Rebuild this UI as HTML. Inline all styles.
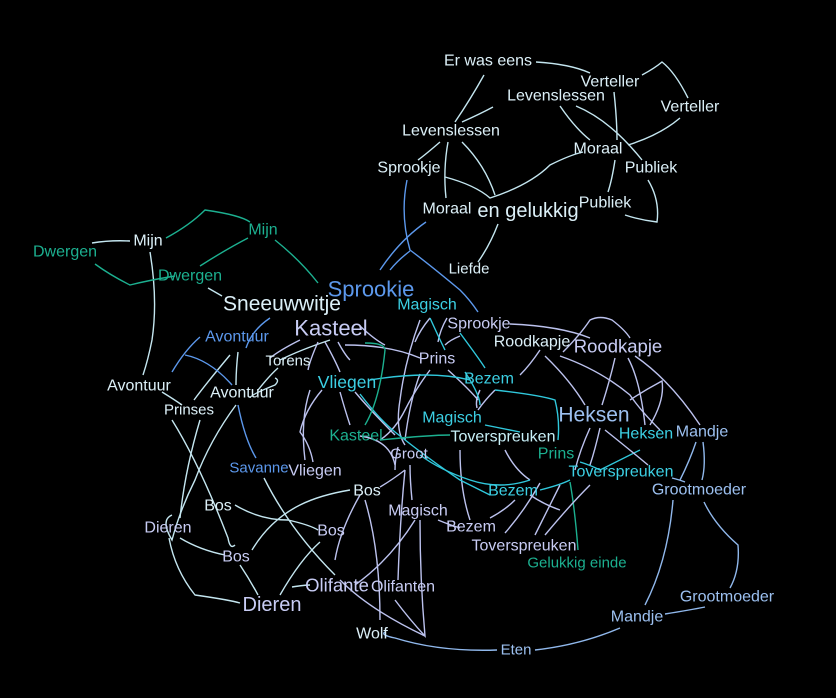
<!DOCTYPE html>
<html><head><meta charset="utf-8"><style>
html,body{margin:0;padding:0;background:#000;}
svg{display:block;}
text{font-family:"Liberation Sans",Arial,sans-serif;text-anchor:middle;dominant-baseline:central;}
.w{fill:#dcf0f8}.l{fill:#c8ccf4}.b{fill:#5c98ec}.c{fill:#3cd0e4}.t{fill:#1cb090}.lb{fill:#9cc0f0}
path{fill:none;stroke-width:1.4}
.ew{stroke:#c4e6f0}.el{stroke:#bcc2ee}.eb{stroke:#5c98ec}.ec{stroke:#30c8dc}.et{stroke:#1cb090}.elb{stroke:#90b8ec}
</style></head><body>
<svg width="836" height="698" viewBox="0 0 836 698" xmlns="http://www.w3.org/2000/svg">
<rect width="836" height="698" fill="#000"/>
<g class="ew">
<path d="M536,62 Q570,64 590,73"/>
<path d="M642,75 Q655,68 662,62 Q675,72 688,98"/>
<path d="M484,75 Q470,100 455,122"/>
<path d="M493,107 Q480,114 462,122"/>
<path d="M560,106 Q575,128 590,140"/>
<path d="M576,106 Q610,120 642,160"/>
<path d="M614,92 Q617,120 617,140"/>
<path d="M628,145 Q660,135 680,118"/>
<path d="M440,142 Q425,155 418,160"/>
<path d="M448,142 Q443,170 446,198"/>
<path d="M462,142 Q485,165 495,195"/>
<path d="M445,177 Q475,185 490,198 Q530,185 550,165 Q570,155 583,152"/>
<path d="M615,160 Q612,180 608,192"/>
<path d="M648,180 Q660,200 657,222 Q640,220 625,215"/>
<path d="M498,224 Q490,245 478,262"/>
</g>
<g class="eb">
<path d="M407,180 Q400,215 410,250 Q430,265 460,290 Q470,300 478,312"/>
<path d="M426,222 Q400,240 380,270"/>
<path d="M410,251 Q398,260 390,270"/>
</g>
<g class="ew">
<path d="M92,243 Q110,240 130,241"/>
<path d="M150,252 Q158,300 152,340 Q148,360 143,375"/>
<path d="M208,288 Q215,292 222,296"/>
<path d="M162,392 Q175,400 182,405"/>
<path d="M172,420 Q200,465 228,538 Q230,550 235,545"/>
<path d="M200,420 Q185,470 180,518"/>
<path d="M230,355 Q205,385 194,400"/>
<path d="M238,352 Q236,370 236,385"/>
<path d="M250,398 Q250,395 275,385 Q280,380 275,378"/>
<path d="M258,390 Q270,375 278,368"/>
<path d="M280,360 Q300,350 330,340"/>
<path d="M236,405 Q210,440 195,480 Q180,510 172,540 Q160,520 172,515"/>
<path d="M169,538 Q175,570 195,595 Q230,600 240,603"/>
<path d="M180,538 Q200,550 225,555"/>
<path d="M235,505 Q260,520 288,520 Q310,525 318,530"/>
<path d="M252,550 Q270,520 300,505 Q320,495 350,490"/>
<path d="M240,565 Q250,580 258,595"/>
<path d="M280,595 Q300,560 320,542"/>
<path d="M264,478 Q290,530 335,575"/>
<path d="M292,587 Q305,585 310,585"/>
</g>
<g class="et">
<path d="M95,264 Q110,275 130,285 Q150,280 175,276"/>
<path d="M166,238 Q190,225 205,210 Q240,215 250,222"/>
<path d="M200,266 Q225,250 248,238"/>
<path d="M275,240 Q300,260 318,283"/>
</g>
<g class="eb">
<path d="M200,337 Q185,350 172,372"/>
<path d="M185,355 Q210,360 232,385"/>
<path d="M246,348 Q252,330 270,318"/>
<path d="M238,405 Q245,440 256,458"/>
</g>
<g class="el">
<path d="M300,340 Q280,350 270,358"/>
<path d="M318,342 Q310,360 308,370"/>
<path d="M325,342 Q335,360 340,372"/>
<path d="M338,342 Q345,355 350,360"/>
<path d="M345,345 Q390,345 420,358"/>
<path d="M310,390 Q300,420 305,460"/>
<path d="M322,390 Q305,410 300,432 Q310,445 313,462"/>
<path d="M340,392 Q345,410 350,425"/>
<path d="M355,392 Q370,410 395,435"/>
<path d="M360,326 Q375,340 385,345"/>
<path d="M420,320 Q405,360 400,400 Q395,430 405,445"/>
<path d="M430,318 Q420,330 415,342"/>
<path d="M447,318 Q440,330 438,342"/>
<path d="M460,336 Q450,340 445,345"/>
<path d="M510,324 Q560,326 590,338"/>
<path d="M430,370 Q415,390 405,410 Q395,430 380,440"/>
<path d="M420,374 Q410,400 405,440"/>
<path d="M448,370 Q470,390 478,400"/>
<path d="M480,390 Q475,400 477,408"/>
<path d="M495,390 Q485,400 478,410"/>
<path d="M398,447 Q395,460 395,470 M410,465 Q410,480 412,500"/>
<path d="M405,470 Q400,520 398,580"/>
<path d="M395,465 Q390,440 360,436"/>
<path d="M380,487 Q392,480 405,470"/>
<path d="M360,495 Q340,530 335,560"/>
<path d="M365,500 Q380,550 380,620"/>
<path d="M420,520 Q420,580 425,636 Q410,620 395,600"/>
<path d="M460,450 Q460,490 470,520"/>
<path d="M505,450 Q515,470 530,480"/>
<path d="M438,520 Q450,525 460,528"/>
<path d="M415,520 Q390,560 355,585"/>
<path d="M490,518 Q505,510 515,500"/>
<path d="M340,580 Q370,610 425,636"/>
</g>
<g class="ec">
<path d="M430,318 Q440,340 445,350"/>
<path d="M460,333 Q480,360 485,368"/>
<path d="M465,372 Q480,395 480,405"/>
<path d="M495,390 Q540,395 555,400 Q560,420 558,440"/>
<path d="M360,394 Q380,420 395,432 Q430,460 460,480 Q480,490 490,495"/>
<path d="M370,380 Q430,370 470,380"/>
<path d="M485,425 Q510,430 520,432"/>
<path d="M420,455 Q440,470 470,480 Q500,490 530,480"/>
<path d="M540,490 Q560,485 570,480"/>
<path d="M580,462 Q590,465 600,470 Q620,460 640,450"/>
</g>
<g class="et">
<path d="M365,343 Q385,343 385,350 Q380,400 365,425"/>
<path d="M380,440 Q430,435 450,435"/>
<path d="M570,482 Q575,510 578,550"/>
</g>
<g class="el">
<path d="M563,352 Q580,335 590,320 Q600,315 612,320 Q625,330 630,338"/>
<path d="M545,356 Q570,380 585,405"/>
<path d="M560,356 Q600,370 630,395 Q640,410 660,430"/>
<path d="M615,358 Q610,380 602,405"/>
<path d="M628,358 Q640,380 645,425"/>
<path d="M635,356 Q670,380 700,425"/>
<path d="M630,400 Q645,390 662,381 Q665,400 650,425"/>
<path d="M590,428 Q580,450 575,470"/>
<path d="M600,428 Q595,450 590,465"/>
<path d="M605,430 Q630,450 648,465"/>
<path d="M540,350 Q530,365 520,375"/>
<path d="M540,483 Q525,510 505,533"/>
<path d="M560,485 Q545,515 535,535"/>
<path d="M590,485 Q570,505 545,535"/>
<path d="M530,495 Q545,505 560,510"/>
</g>
<g class="elb">
<path d="M696,442 Q690,460 680,480"/>
<path d="M703,442 Q706,465 702,480"/>
<path d="M672,478 Q680,480 685,482"/>
<path d="M673,500 Q668,560 645,605"/>
<path d="M704,502 Q715,525 738,545 Q740,570 730,588"/>
<path d="M665,614 Q690,610 705,607"/>
<path d="M620,628 Q580,645 535,650"/>
<path d="M497,650 Q440,652 395,638 Q380,635 385,632"/>
</g>
<g font-size="16">
<text x="488" y="61" class="w">Er was eens</text>
<text x="610" y="82" class="w">Verteller</text>
<text x="556" y="96" class="w">Levenslessen</text>
<text x="690" y="107" class="w">Verteller</text>
<text x="451" y="131" class="w">Levenslessen</text>
<text x="598" y="149" class="w">Moraal</text>
<text x="409" y="168" class="w">Sprookje</text>
<text x="651" y="168" class="w">Publiek</text>
<text x="605" y="203" class="w">Publiek</text>
<text x="447" y="209" class="w">Moraal</text>
<text x="528" y="211" class="w" font-size="20">en gelukkig</text>
<text x="148" y="241" class="w">Mijn</text>
<text x="263" y="230" class="t">Mijn</text>
<text x="65" y="252" class="t">Dwergen</text>
<text x="190" y="276" class="t">Dwergen</text>
<text x="469" y="269" class="w" font-size="15">Liefde</text>
<text x="371" y="289" class="b" font-size="22">Sprookie</text>
<text x="282" y="304" class="w" font-size="21">Sneeuwwitje</text>
<text x="427" y="305" class="c">Magisch</text>
<text x="331" y="328" class="l" font-size="22">Kasteel</text>
<text x="479" y="324" class="l">Sprookje</text>
<text x="237" y="337" class="b">Avontuur</text>
<text x="532" y="342" class="w">Roodkapje</text>
<text x="618" y="346" class="l" font-size="18.5">Roodkapje</text>
<text x="288" y="361" class="w" font-size="15">Torens</text>
<text x="437" y="359" class="l">Prins</text>
<text x="347" y="382" class="c" font-size="17.5">Vliegen</text>
<text x="489" y="379" class="c">Bezem</text>
<text x="139" y="386" class="w">Avontuur</text>
<text x="242" y="393" class="w">Avontuur</text>
<text x="189" y="410" class="w" font-size="15">Prinses</text>
<text x="594" y="415" class="lb" font-size="21">Heksen</text>
<text x="452" y="418" class="c">Magisch</text>
<text x="356" y="436" class="t">Kasteel</text>
<text x="503" y="437" class="w" style="fill:#c8f0f8">Toverspreuken</text>
<text x="646" y="434" class="c">Heksen</text>
<text x="702" y="432" class="lb">Mandje</text>
<text x="556" y="454" class="t">Prins</text>
<text x="409" y="454" class="l" font-size="15">Groot</text>
<text x="259" y="468" class="b" font-size="15">Savanne</text>
<text x="315" y="471" class="l">Vliegen</text>
<text x="621" y="472" class="c">Toverspreuken</text>
<text x="513" y="491" class="c">Bezem</text>
<text x="699" y="490" class="lb">Grootmoeder</text>
<text x="367" y="491" class="w">Bos</text>
<text x="218" y="506" class="w">Bos</text>
<text x="418" y="511" class="l">Magisch</text>
<text x="168" y="528" class="l">Dieren</text>
<text x="331" y="531" class="l">Bos</text>
<text x="471" y="527" class="l">Bezem</text>
<text x="524" y="546" class="l">Toverspreuken</text>
<text x="236" y="557" class="l">Bos</text>
<text x="577" y="563" class="t" font-size="15">Gelukkig einde</text>
<text x="337" y="585" class="l" font-size="18.5">Olifante</text>
<text x="403" y="587" class="l">Olifanten</text>
<text x="272" y="605" class="l" font-size="20">Dieren</text>
<text x="727" y="597" class="lb">Grootmoeder</text>
<text x="637" y="617" class="lb">Mandje</text>
<text x="372" y="634" class="w">Wolf</text>
<text x="516" y="650" class="lb" font-size="15">Eten</text>
</g>
</svg>
</body></html>
